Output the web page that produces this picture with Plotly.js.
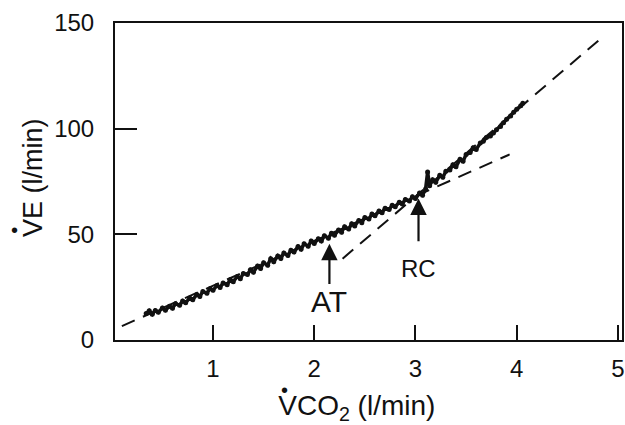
<!DOCTYPE html>
<html>
<head>
<meta charset="utf-8">
<script src="https://cdn.plot.ly/plotly-3.0.1.min.js"></script>
<style>html,body{margin:0;padding:0;background:#fff;}#chart{width:625px;height:425px;}</style>
</head>
<body>
<div id="chart"></div>
<script>
// Breath-by-breath data: VCO2 (l/min) vs VE (l/min)
const vco2 = [0.34,0.37,0.40,0.43,0.46,0.50,0.53,0.57,0.60,0.63,0.67,0.70,0.73,0.77,0.80,0.84,0.87,0.90,0.94,0.97,
  1.00,1.04,1.07,1.10,1.14,1.17,1.20,1.24,1.27,1.30,1.34,1.37,1.40,1.44,1.47,1.50,1.54,1.57,1.60,1.64,1.67,1.70,1.74,1.77,1.80,1.84,1.87,1.90,1.94,1.97,
  2.00,2.04,2.07,2.10,2.14,2.17,2.20,2.24,2.27,2.30,2.34,2.37,2.40,2.44,2.47,2.50,2.54,2.57,2.60,2.64,2.67,2.70,2.74,2.77,2.80,2.84,2.87,2.90,2.94,2.97,
  3.00,3.04,3.07,3.10,3.12,3.14,3.17,3.20,3.24,3.27,3.30,3.34,3.37,3.40,3.44,3.47,3.50,3.54,3.57,3.60,3.64,3.67,3.70,3.74,3.77,3.80,3.84,3.87,3.90,3.94,3.97,
  4.00,4.04,4.06];
const ve = [12.5,13.8,12.2,14.0,13.1,15.2,14.1,16.0,15.0,17.2,16.4,18.5,17.6,19.9,19.0,21.5,20.6,23.0,22.1,24.3,
  23.5,25.8,24.9,27.0,26.2,28.5,27.6,30.1,29.0,31.5,31.0,33.2,32.1,35.0,33.8,36.6,35.4,38.5,37.0,39.8,38.6,41.2,40.0,42.5,41.6,44.2,42.9,45.5,44.4,46.8,
  45.7,47.9,46.8,49.3,48.2,50.5,49.6,52.0,51.0,53.6,52.5,55.0,54.0,56.6,55.5,58.0,57.2,59.6,58.8,61.0,60.2,62.4,61.8,63.8,63.0,65.2,64.4,66.5,65.8,67.8,
  66.9,69.5,68.5,71.5,79.5,73.0,75.8,74.6,77.9,77.0,79.8,80.5,82.9,82.0,85.5,84.6,87.8,88.7,91.0,90.2,93.2,94.0,95.8,96.5,98.0,99.5,101.0,102.8,104.5,106.0,107.8,
  109.2,110.8,112.0];

// Regression lines (dashed)
const fit1X = [0.10, 3.93];
const fit1Y = [6.6, 87.8];
const fit2X = [2.28, 4.81];
const fit2Y = [38.5, 141.8];

// Threshold markers
const markerNames = ["AT", "RC"];
const markerX = [2.15, 3.03];
const markerTipY = [45.5, 67];
const markerLabelY = [18, 34];

const xTicks = [1, 2, 3, 4, 5];
const yTicks = [0, 50, 100, 150];

const FONT = "Liberation Sans, Arial, Helvetica, sans-serif";
const INK = "#111";

const traces = [
  {x: fit1X, y: fit1Y, mode: "lines", line: {color: INK, width: 2, dash: "14px,9px"}, hoverinfo: "skip"},
  {x: fit2X, y: fit2Y, mode: "lines", line: {color: INK, width: 2, dash: "14px,9px"}, hoverinfo: "skip"},
  {x: vco2, y: ve, mode: "lines+markers", line: {color: INK, width: 3.5}, marker: {color: INK, size: 5}}
];

const annotations = [];
markerNames.forEach((n, i) => {
  annotations.push({x: markerX[i], y: markerTipY[i], ax: markerX[i], ay: markerLabelY[i], axref: "x", ayref: "y",
    xref: "x", yref: "y", text: n, showarrow: true, arrowhead: 2, arrowsize: 1.5, arrowwidth: 2.2, arrowcolor: INK,
    startstandoff: i === 0 ? 0 : 12,
    font: {family: FONT, size: i === 0 ? 30 : 24, color: INK}});
});
// dots above V in the axis titles
annotations.push({xref: "paper", yref: "paper", x: -0.199, y: 0.347, xanchor: "center", yanchor: "middle", text: "•", showarrow: false, font: {family: FONT, size: 20, color: INK}});
annotations.push({xref: "paper", yref: "paper", x: 0.335, y: -0.157, xanchor: "center", yanchor: "middle", text: "•", showarrow: false, font: {family: FONT, size: 20, color: INK}});

const layout = {
  width: 625, height: 425,
  margin: {l: 115, r: 3, t: 23, b: 85},
  paper_bgcolor: "#fff", plot_bgcolor: "#fff",
  showlegend: false,
  font: {family: FONT, color: INK},
  xaxis: {
    range: [0.032, 5.04], tickvals: xTicks, ticktext: xTicks.map(String),
    ticks: "inside", ticklen: 15, tickwidth: 2, tickcolor: INK,
    showline: true, linecolor: INK, linewidth: 2, mirror: true,
    showgrid: false, zeroline: false,
    tickfont: {family: FONT, size: 24, color: INK}, ticklabelstandoff: 6,
    title: {text: "VCO<sub>2</sub> (l/min)&nbsp;&nbsp;&nbsp;", font: {family: FONT, size: 28, color: INK}, standoff: 16}
  },
  yaxis: {
    range: [0, 150], tickvals: yTicks, ticktext: yTicks.map(String),
    ticks: "inside", ticklen: 22, tickwidth: 2, tickcolor: INK,
    showline: true, linecolor: INK, linewidth: 2, mirror: true,
    showgrid: false, zeroline: false,
    tickfont: {family: FONT, size: 24, color: INK}, ticklabelstandoff: 14,
    title: {text: "&nbsp;VE (l/min)", font: {family: FONT, size: 27, color: INK}, standoff: 4}
  },
  annotations: annotations
};

Plotly.newPlot("chart", traces, layout, {displayModeBar: false, staticPlot: true});
</script>
</body>
</html>
